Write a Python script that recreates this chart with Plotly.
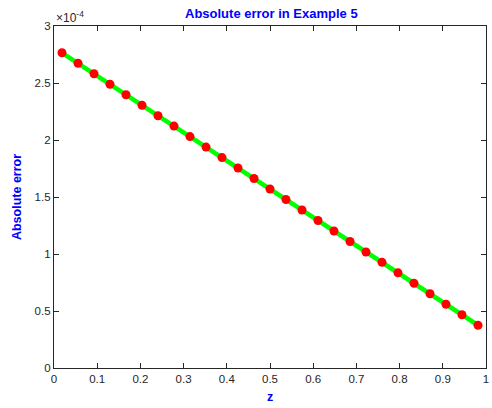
import plotly.graph_objects as go

# Sample points and absolute error values (units of 1e-4)
z = [0.0185, 0.0556, 0.0926, 0.1296, 0.1667, 0.2037, 0.2407, 0.2778, 0.3148,
     0.3519, 0.3889, 0.4259, 0.4630, 0.5000, 0.5370, 0.5741, 0.6111, 0.6481,
     0.6852, 0.7222, 0.7593, 0.7963, 0.8333, 0.8704, 0.9074, 0.9444, 0.9815]
err_scaled = [2.765, 2.673, 2.581, 2.489, 2.397, 2.305, 2.213, 2.122, 2.030,
              1.938, 1.846, 1.754, 1.662, 1.570, 1.478, 1.386, 1.294, 1.202,
              1.110, 1.018, 0.927, 0.835, 0.743, 0.651, 0.559, 0.467, 0.375]
err = [v * 1e-4 for v in err_scaled]

x_ticks = [0, 0.1, 0.2, 0.3, 0.4, 0.5, 0.6, 0.7, 0.8, 0.9, 1]
x_ticktext = ["0", "0.1", "0.2", "0.3", "0.4", "0.5", "0.6", "0.7", "0.8", "0.9", "1"]
y_ticks = [0, 0.5e-4, 1e-4, 1.5e-4, 2e-4, 2.5e-4, 3e-4]
y_ticktext = ["0", "0.5", "1", "1.5", "2", "2.5", "3"]

font_family = "Liberation Sans, Arial, Helvetica, sans-serif"
axis_color = "#262626"
blue = "#0000ff"

fig = go.Figure()
fig.add_trace(go.Scatter(
    x=z, y=err, mode="lines+markers",
    line=dict(color="#00ff00", width=4.5),
    marker=dict(color="#ff0000", size=9, line=dict(width=0)),
    showlegend=False,
))

axis_common = dict(
    showgrid=False, zeroline=False, showline=True, linecolor=axis_color,
    linewidth=1.2, mirror="allticks", ticks="inside", ticklen=5,
    tickcolor=axis_color, tickwidth=1, ticklabeloverflow="allow",
    tickfont=dict(family=font_family, size=11.5, color=axis_color),
)

fig.update_layout(
    width=492, height=408,
    margin=dict(l=54, r=3, t=26, b=40),
    paper_bgcolor="white", plot_bgcolor="white",
    title=dict(text="<b>Absolute error in Example 5</b>",
               x=0.5515, xanchor="center", y=0.968, yanchor="middle",
               font=dict(family=font_family, size=13, color=blue)),
    xaxis=dict(range=[0, 1], tickvals=x_ticks, ticktext=x_ticktext,
               title=dict(text="<b>z</b>", standoff=8,
                          font=dict(family=font_family, size=12.5, color=blue)),
               **axis_common),
    yaxis=dict(range=[0, 3e-4], tickvals=y_ticks, ticktext=y_ticktext,
               title=dict(text="<b>Absolute error</b>", standoff=10,
                          font=dict(family=font_family, size=12.5, color=blue)),
               **axis_common),
    annotations=[dict(
        text="×10<sup>-4</sup>", xref="paper", yref="paper",
        x=0, y=1, xanchor="left", yanchor="bottom", showarrow=False,
        font=dict(family=font_family, size=12, color=axis_color),
        xshift=0, yshift=-1,
    )],
)

fig.write_html("out.html")
